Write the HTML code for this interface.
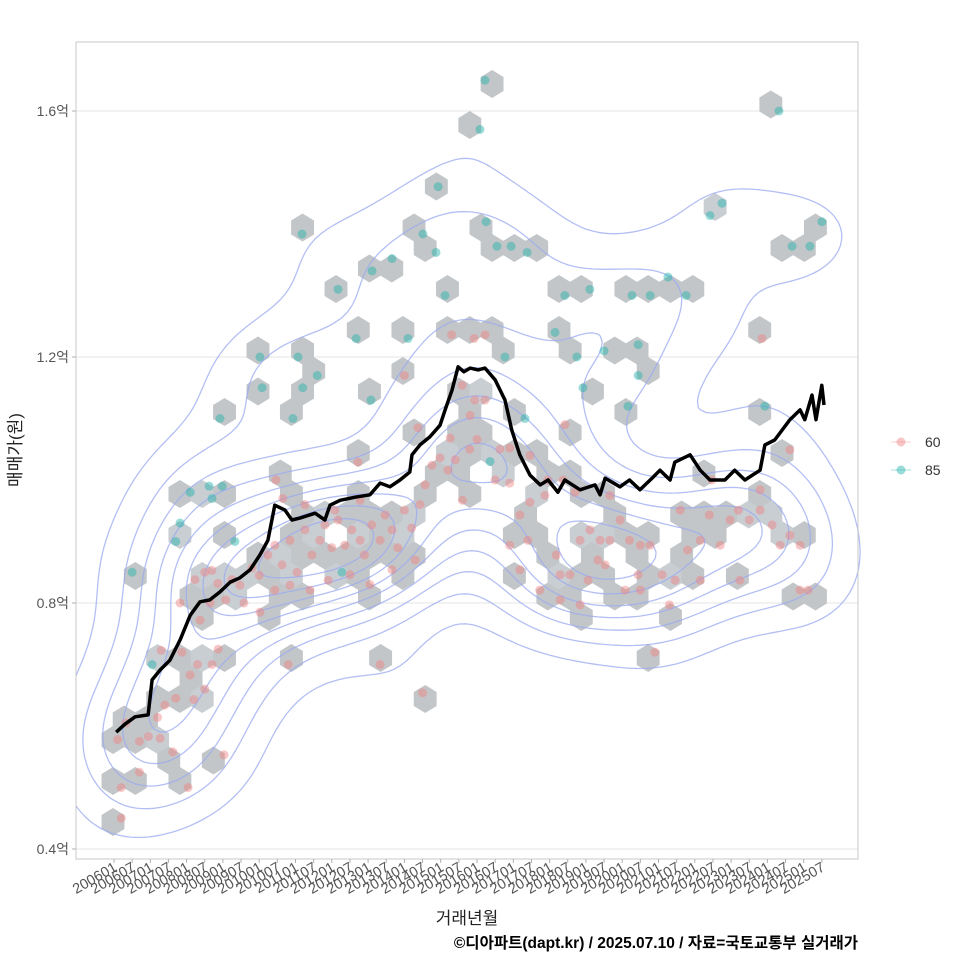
<!DOCTYPE html>
<html><head><meta charset="utf-8">
<style>
html,body{margin:0;padding:0;background:#fff;}
svg text{font-family:"Liberation Sans","Noto Sans CJK KR",sans-serif;}
</style></head>
<body>
<svg id="chart" width="960" height="960" viewBox="0 0 960 960" xmlns="http://www.w3.org/2000/svg">
<rect x="0" y="0" width="960" height="960" fill="#fff"/>
<g id="grid"></g>
<g id="hexes"></g>
<g id="contours"></g>
<g id="points"></g>
<g id="line"></g>
<rect x="76" y="42" width="782" height="817" fill="none" stroke="#c8c8c8" stroke-width="1"/>
<g id="axes"></g>
<text x="467" y="924" text-anchor="middle" font-size="17" fill="#222">거래년월</text>
<text transform="translate(21,450) rotate(-90)" text-anchor="middle" font-size="17" fill="#222">매매가(원)</text>
<text x="858" y="948" text-anchor="end" font-size="15.5" font-weight="bold" fill="#000">©디아파트(dapt.kr) / 2025.07.10 / 자료=국토교통부 실거래가</text>
<g>
  <g>
    <line x1="891" y1="442" x2="911" y2="442" stroke="#f08080" stroke-opacity="0.4" stroke-width="1"/>
    <circle cx="901" cy="442" r="4.5" fill="#f08080" fill-opacity="0.45"/>
    <text x="925" y="447" font-size="14" fill="#333">60</text>
  </g>
  <g>
    <line x1="891" y1="470" x2="911" y2="470" stroke="#20b2aa" stroke-opacity="0.4" stroke-width="1"/>
    <circle cx="901" cy="470" r="4.5" fill="#20b2aa" fill-opacity="0.45"/>
    <text x="925" y="475" font-size="14" fill="#333">85</text>
  </g>
</g>
</svg>
<script>
// ---- data ----
const yTickValues = [0.4, 0.8, 1.2, 1.6];
const yTickLabels = ["0.4억", "0.8억", "1.2억", "1.6억"];
const xTickYears = [];
const xTickLabels = [];
for (let y = 2006; y <= 2025; y++) { for (const h of [0, 0.5]) { xTickYears.push(y + h); xTickLabels.push(String(y) + (h ? "07" : "01")); } }

const lineYears = [2006.06,2006.3,2006.58,2006.94,2007.05,2007.27,2007.54,2007.82,2008.1,2008.37,2008.64,2008.92,2009.2,2009.47,2009.75,2010.02,2010.24,2010.43,2010.71,2010.9,2011.12,2011.54,2011.81,2011.95,2012.23,2012.64,2013.05,2013.33,2013.6,2013.88,2014.15,2014.21,2014.43,2014.7,2014.98,2015.12,2015.31,2015.48,2015.64,2015.81,2016.03,2016.22,2016.5,2016.77,2016.96,2017.18,2017.46,2017.74,2017.96,2018.23,2018.42,2018.84,2019.25,2019.39,2019.53,2019.94,2020.2,2020.49,2020.82,2021.04,2021.32,2021.45,2021.87,2022.15,2022.42,2022.83,2023.1,2023.38,2023.8,2023.93,2024.2,2024.62,2024.9,2025.03,2025.23,2025.34,2025.5,2025.56];
const lineValues = [0.590,0.603,0.615,0.618,0.675,0.691,0.707,0.740,0.780,0.802,0.805,0.818,0.834,0.841,0.854,0.878,0.902,0.959,0.951,0.935,0.938,0.946,0.935,0.959,0.967,0.972,0.976,0.995,0.989,1.0,1.013,1.041,1.057,1.07,1.089,1.114,1.146,1.184,1.176,1.182,1.179,1.182,1.163,1.13,1.081,1.041,1.008,0.992,1.0,0.980,1.0,0.984,0.992,0.976,1.003,0.989,1.0,0.984,1.003,1.016,1.0,1.029,1.041,1.016,1.0,1.0,1.016,1.0,1.016,1.057,1.065,1.098,1.114,1.098,1.138,1.098,1.154,1.122];

// teal (85) points
const tealYears = [2016.22,2016.08,2024.32,2014.93,2011.18,2014.51,2014.87,2016.25,2016.55,2016.94,2017.38,2013.66,2013.11,2012.17,2015.12,2018.42,2019.11,2020.27,2020.77,2021.26,2021.76,2022.42,2022.75,2024.68,2025.17,2025.5,2012.67,2014.1,2018.15,2020.44,2018.75,2019.5,2010.02,2010.08,2011.07,2011.2,2011.6,2010.93,2008.92,2013.08,2016.77,2016.36,2017.32,2018.92,2020.16,2020.44,2023.93,2008.1,2008.62,2008.98,2008.7,2007.82,2007.7,2006.5,2009.33,2007.05,2012.28];
const tealValues = [1.65,1.57,1.60,1.477,1.40,1.40,1.37,1.42,1.38,1.38,1.37,1.36,1.34,1.31,1.30,1.30,1.31,1.30,1.30,1.33,1.30,1.43,1.45,1.38,1.38,1.42,1.23,1.23,1.24,1.22,1.20,1.21,1.20,1.15,1.20,1.15,1.17,1.10,1.10,1.13,1.20,1.03,1.10,1.15,1.12,1.17,1.12,0.98,0.99,0.99,0.97,0.93,0.90,0.85,0.90,0.70,0.85];

// pink (60) points
const pinkYears = [2006.2,2006.2,2006.7,2006.1,2006.33,2006.7,2006.95,2007.27,2007.2,2007.4,2007.7,2008.1,2007.87,2008.3,2008.7,2008.87,2008.04,2007.62,2009.03,2007.3,2008.2,2008.5,
2007.82,2008.65,2008.37,2008.7,2008.86,2009.25,2009.47,2009.08,2009.58,2009.8,2010.0,2008.5,2008.23,
2010.24,2010.43,2010.63,2010.85,2011.04,2011.26,2011.45,2011.67,2011.81,2012.0,2012.17,2012.36,2012.55,2012.78,2012.9,2013.1,2013.33,2013.47,2013.66,2013.82,2014.0,2014.2,2014.43,2014.57,2014.76,2014.98,2015.2,2014.3,2013.66,2013.05,2012.5,2011.9,2011.4,2010.85,2010.43,2012.78,2012.08,2011.26,2010.65,2010.46,2012.72,2013.33,2014.5,2010.8,2010.02,2014.0,2014.37,2015.26,2015.81,2015.59,2015.94,2016.22,2015.8,2016.0,2015.4,2015.6,2016.22,2015.92,2015.3,
2016.63,2016.9,2016.5,2016.9,2017.18,2017.4,2017.18,2016.9,2017.46,2017.87,2017.95,2017.73,2018.29,2018.18,2018.56,2018.42,2018.37,2018.7,2018.84,2019.11,2019.33,2018.84,2019.06,2019.39,2019.53,2019.66,2019.94,2020.2,2020.08,2020.44,2020.5,2020.77,2020.9,2021.1,2021.46,2021.6,2021.8,2022.15,2022.4,2022.47,2022.7,2022.97,2023.2,2023.24,2023.5,2023.8,2024.13,2024.35,2024.62,2024.9,2023.8,2024.62,2024.9,2025.12,2023.85,2021.3,2022.15,2018.29,2017.46,2019.66,2020.5];
const pinkValues = [0.45,0.50,0.525,0.578,0.605,0.575,0.583,0.58,0.614,0.634,0.645,0.683,0.72,0.70,0.70,0.725,0.50,0.558,0.553,0.723,0.643,0.66,
0.80,0.80,0.772,0.853,0.832,0.838,0.829,0.805,0.80,0.857,0.845,0.85,0.838,
0.878,0.894,0.862,0.902,0.85,0.919,0.878,0.902,0.927,0.89,0.935,0.894,0.919,0.902,0.878,0.927,0.902,0.943,0.919,0.89,0.951,0.922,0.96,0.992,1.024,1.036,1.016,0.87,0.854,0.83,0.846,0.837,0.821,0.829,0.821,0.967,0.951,0.96,0.97,1.0,1.029,0.70,0.654,0.70,0.785,1.17,1.085,1.068,1.105,1.154,1.13,1.13,1.05,1.066,1.033,0.967,1.236,1.23,1.236,
1.05,1.052,1.0,0.995,0.943,0.902,0.854,0.894,0.964,0.975,1.0,0.821,0.846,0.878,0.846,1.09,1.0,0.98,0.902,0.919,0.87,0.797,0.837,0.902,0.862,0.975,0.935,0.902,0.821,0.846,0.821,0.894,0.72,0.846,0.837,0.951,0.886,0.902,0.943,1.0,0.894,0.935,0.951,0.837,0.935,0.951,0.927,0.894,0.91,0.894,0.984,1.049,0.821,0.821,1.23,0.797,0.837,0.805,1.04,0.902,0.894];

// ---- scales ----
const NS = "http://www.w3.org/2000/svg";
function xScale(yr) { return 114 + (yr - 2006) * 36.3; }
function yScale(v) { return 111 + (1.6 - v) * 615; }
function mk(tag, attrs, parent) { const e = document.createElementNS(NS, tag); for (const k in attrs) e.setAttribute(k, attrs[k]); parent.appendChild(e); return e; }

const gGrid = document.getElementById("grid"), gAxes = document.getElementById("axes");
yTickValues.forEach((v, i) => {
  const y = yScale(v);
  const gl = mk("line", {x1: 76, x2: 858, y1: y, y2: y, stroke: "#e6e6e6", "stroke-width": 1}, gGrid);
  
  
  const tk = mk("line", {x1: 72, x2: 76, y1: y, y2: y, stroke: "#b0b0b0"}, gAxes);
  
  
  const t = mk("text", {x: 69, y: y + 5, "text-anchor": "end", "font-size": 14, fill: "#555"}, gAxes);
  t.textContent = yTickLabels[i];
  
  
});
xTickYears.forEach((yr, i) => {
  const x = xScale(yr);
  const tk = mk("line", {x1: x, x2: x, y1: 859, y2: 863, stroke: "#b0b0b0"}, gAxes);
  
  
  const t = mk("text", {transform: `translate(${x + 4},${870}) rotate(-30)`, "text-anchor": "end", "font-size": 14.5, fill: "#555"}, gAxes);
  t.textContent = xTickLabels[i];
  
  
});

// ---- collect points ----
const pts = [];
tealYears.forEach((yr, i) => pts.push({x: xScale(yr), y: yScale(tealValues[i]), t: 1}));
pinkYears.forEach((yr, i) => pts.push({x: xScale(yr), y: yScale(pinkValues[i]), t: 0}));

// ---- hex binning ----
const HX0 = 113, HY0 = 822, HDX = 22.3, HDY = 20.5, HR = HDY / 0.75 / 2;
const bins = {};
pts.forEach(p => {
  const r0 = Math.round((p.y - HY0) / HDY);
  let best = null, bd = 1e9;
  for (let r = r0 - 1; r <= r0 + 1; r++) {
    const off = (Math.abs(r) % 2) ? HDX / 2 : 0;
    const c = Math.round((p.x - HX0 - off) / HDX);
    for (let cc = c - 1; cc <= c + 1; cc++) {
      const cx = HX0 + off + cc * HDX, cy = HY0 + r * HDY;
      const d = ((p.x - cx) / HDX) ** 2 + ((p.y - cy) / (HR * 2)) ** 2 * 1.3;
      if (d < bd) { bd = d; best = {cx, cy, k: r + "_" + cc}; }
    }
  }
  if (!bins[best.k]) bins[best.k] = {cx: best.cx, cy: best.cy, n: 0};
  bins[best.k].n++;
});
const gHex = document.getElementById("hexes");
Object.values(bins).forEach(b => {
  const hw = HDX / 2 + 0.3, r = HR + 0.3;
  const d = `M${b.cx},${b.cy - r} L${b.cx + hw},${b.cy - r / 2} L${b.cx + hw},${b.cy + r / 2} L${b.cx},${b.cy + r} L${b.cx - hw},${b.cy + r / 2} L${b.cx - hw},${b.cy - r / 2}Z`;
  const fill = b.n >= 4 ? "#d0d7de" : (b.n >= 2 ? "#c9ced3" : "#c3c6c9");
  const h = mk("path", {d, fill}, gHex);
  
  
});

// ---- KDE contours ----
const CS = 6, GX0 = 76, GY0 = 42, NX = Math.ceil(782 / CS) + 1, NY = Math.ceil(817 / CS) + 1;
const BWX = 50, BWY = 42;
const dens = [];
let dmax = 0;
for (let j = 0; j < NY; j++) { const row = []; for (let i = 0; i < NX; i++) {
  const gx = GX0 + i * CS, gy = GY0 + j * CS; let s = 0;
  for (const p of pts) { const dx = (gx - p.x) / BWX, dy = (gy - p.y) / BWY; const q = dx * dx + dy * dy; if (q < 16) s += Math.exp(-0.5 * q); }
  row.push(s); if (s > dmax) dmax = s; } dens.push(row); }
const gC = document.getElementById("contours");
const NL = 9;
for (let l = 1; l <= NL; l++) {
  const lev = dmax * (l / (NL + 1));
  let d = "";
  for (let j = 0; j < NY - 1; j++) for (let i = 0; i < NX - 1; i++) {
    const v = [dens[j][i], dens[j][i + 1], dens[j + 1][i + 1], dens[j + 1][i]];
    const xs = [GX0 + i * CS, GX0 + (i + 1) * CS], ys = [GY0 + j * CS, GY0 + (j + 1) * CS];
    const corners = [[xs[0], ys[0]], [xs[1], ys[0]], [xs[1], ys[1]], [xs[0], ys[1]]];
    const ptsE = [];
    for (let e = 0; e < 4; e++) {
      const a = v[e], b = v[(e + 1) % 4];
      if ((a >= lev) !== (b >= lev)) {
        const t = (lev - a) / (b - a), A = corners[e], B = corners[(e + 1) % 4];
        ptsE.push([A[0] + t * (B[0] - A[0]), A[1] + t * (B[1] - A[1])]);
      }
    }
    for (let k = 0; k + 1 < ptsE.length; k += 2) d += `M${ptsE[k][0].toFixed(1)},${ptsE[k][1].toFixed(1)}L${ptsE[k + 1][0].toFixed(1)},${ptsE[k + 1][1].toFixed(1)}`;
  }
  const c = mk("path", {d, fill: "none", stroke: "#9aaaf0", "stroke-width": 1.3, "stroke-opacity": 0.75}, gC);
  
  
}

// ---- points ----
const gP = document.getElementById("points");
pts.forEach(p => {
  const c = mk("circle", {cx: p.x, cy: p.y, r: 4.5, fill: p.t ? "#20b2aa" : "#f08080", "fill-opacity": 0.45}, gP);
  
  
});

// ---- median line ----
const gL = document.getElementById("line");
const ld = lineYears.map((yr, i) => (i ? "L" : "M") + xScale(yr).toFixed(1) + "," + yScale(lineValues[i]).toFixed(1)).join("");
const pl = mk("path", {d: ld, fill: "none", stroke: "#000", "stroke-width": 3.5, "stroke-linejoin": "round"}, gL);


</script>
</body></html>
